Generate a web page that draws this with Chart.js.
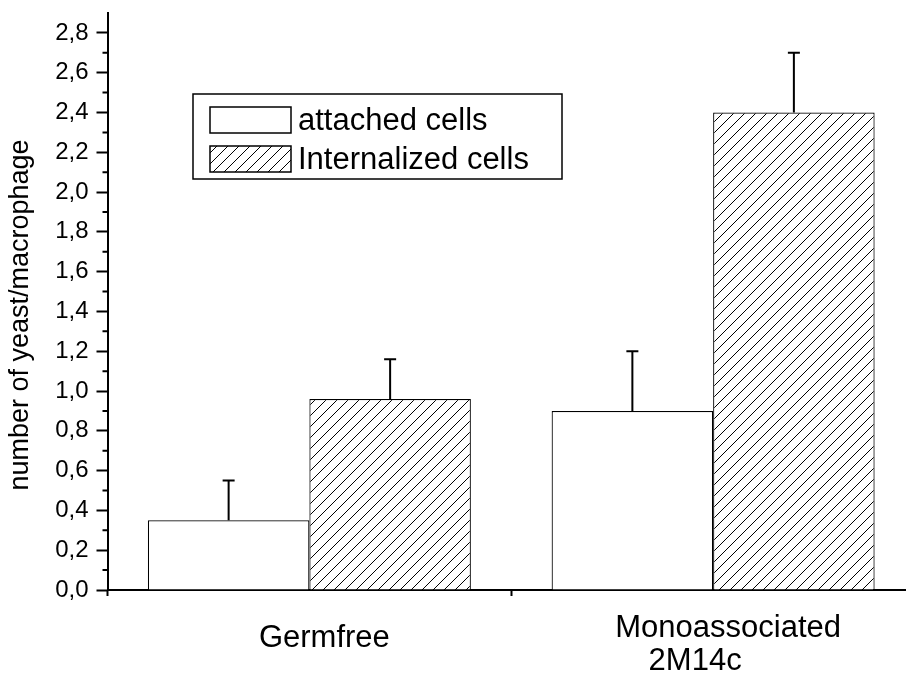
<!DOCTYPE html>
<html>
<head>
<meta charset="utf-8">
<script src="https://cdn.jsdelivr.net/npm/chart.js@4.4.0/dist/chart.umd.min.js"></script>
<style>
    body { margin: 0; overflow: hidden; background: #fff; }
    #contenedor { width: 920px; height: 679px; }
</style>
</head>
<body>
<div id="contenedor"><canvas id="grafico"></canvas></div>
<script>
// datos
let categorias = [['Germfree'], ['Monoassociated', '2M14c']];
let series = ['attached cells', 'Internalized cells'];
let adheridas = [0.35, 0.90];
let adheridas_err = [0.20, 0.30];
let internalizadas = [0.96, 2.40];
let internalizadas_err = [0.20, 0.30];
let y_max = 2.9;
let y_paso = 0.2;
let titulo_y = 'number of yeast/macrophage';

let fuente = '"Liberation Sans", Arial, sans-serif';
Chart.defaults.font.family = fuente;
Chart.defaults.color = '#000';

let graf = document.getElementById('grafico');

function rayado() {
    let c = document.createElement('canvas');
    c.width = 11;
    c.height = 11;
    let g = c.getContext('2d');
    g.fillStyle = '#fff';
    g.fillRect(0, 0, 11, 11);
    g.strokeStyle = '#000';
    g.lineWidth = 1;
    g.beginPath();
    g.moveTo(0, 11); g.lineTo(11, 0);
    g.moveTo(-1, 1); g.lineTo(1, -1);
    g.moveTo(10, 12); g.lineTo(12, 10);
    g.stroke();
    return graf.getContext('2d').createPattern(c, 'repeat');
}

let patron = rayado();

let extras = {
    id: 'extras',
    afterDatasetsDraw: function(chart) {
        let ctx = chart.ctx;
        let y = chart.scales.y;
        // barras de error (solo hacia arriba)
        chart.data.datasets.forEach(function(ds, d) {
            let meta = chart.getDatasetMeta(d);
            meta.data.forEach(function(barra, i) {
                let tope = y.getPixelForValue(ds.data[i] + ds.errores[i]);
                ctx.save();
                ctx.strokeStyle = '#000';
                ctx.lineWidth = 2;
                ctx.beginPath();
                ctx.moveTo(barra.x, barra.y);
                ctx.lineTo(barra.x, tope);
                ctx.moveTo(barra.x - 6, tope);
                ctx.lineTo(barra.x + 6, tope);
                ctx.stroke();
                ctx.restore();
            });
        });
    },
    afterDraw: function(chart) {
        let ctx = chart.ctx;
        let x = chart.scales.x;
        let y = chart.scales.y;
        ctx.save();
        ctx.strokeStyle = '#000';
        ctx.fillStyle = '#000';

        // marcas menores del eje y
        ctx.lineWidth = 2;
        ctx.beginPath();
        for (let i = 1; i < y_max * 10; i += 2) {
            let py = y.getPixelForValue(i / 10);
            ctx.moveTo(y.right - 5, py);
            ctx.lineTo(y.right, py);
        }
        ctx.stroke();

        // etiquetas del eje x
        ctx.font = '31px ' + fuente;
        ctx.textAlign = 'center';
        ctx.textBaseline = 'alphabetic';
        categorias.forEach(function(lineas, i) {
            let px = x.getPixelForValue(i);
            if (lineas.length == 1) {
                ctx.fillText(lineas[0], px + 15, 647);
            }
            else {
                ctx.fillText(lineas[0], px + 15, 637);
                ctx.fillText(lineas[1], px - 18, 670);
            }
        });

        // titulo del eje y
        ctx.save();
        ctx.translate(28, 315);
        ctx.rotate(-Math.PI / 2);
        ctx.font = '27px ' + fuente;
        ctx.fillText(titulo_y, 0, 0);
        ctx.restore();

        // leyenda
        ctx.lineWidth = 1.5;
        ctx.fillStyle = '#fff';
        ctx.fillRect(193, 94, 369, 85);
        ctx.strokeRect(193, 94, 369, 85);
        ctx.font = '31px ' + fuente;
        ctx.textAlign = 'left';
        ctx.textBaseline = 'middle';
        chart.data.datasets.forEach(function(ds, d) {
            let sy = 107 + d * 39;
            ctx.fillStyle = ds.backgroundColor;
            ctx.fillRect(210, sy, 81, 26);
            ctx.strokeRect(210, sy, 81, 26);
            ctx.fillStyle = '#000';
            ctx.fillText(ds.label, 298, sy + 14);
        });
        ctx.restore();
    }
};

let grafico = new Chart(graf, {
    type: 'bar',
    data: {
        labels: categorias,
        datasets: [{
            label: series[0],
            data: adheridas,
            errores: adheridas_err,
            backgroundColor: '#ffffff',
            borderColor: '#000000',
            borderWidth: 1.2
        }, {
            label: series[1],
            data: internalizadas,
            errores: internalizadas_err,
            backgroundColor: patron,
            borderColor: '#000000',
            borderWidth: 1.2
        }]
    },
    options: {
        responsive: true,
        maintainAspectRatio: false,
        animation: false,
        categoryPercentage: 0.8,
        barPercentage: 1.0,
        layout: {
            padding: { top: 13, right: 5, left: 0, bottom: 0 }
        },
        plugins: {
            legend: { display: false },
            tooltip: { enabled: false }
        },
        scales: {
            x: {
                grid: {
                    drawOnChartArea: false,
                    tickLength: 6,
                    tickWidth: 2,
                    tickColor: '#000',
                    offset: true
                },
                border: { color: '#000', width: 2 },
                ticks: { display: false },
                afterFit: function(s) {
                    s.height = 89;
                    s.paddingLeft = 0;
                    s.paddingRight = 0;
                }
            },
            y: {
                min: 0,
                max: y_max,
                grid: {
                    drawOnChartArea: false,
                    tickLength: 11,
                    tickWidth: 2,
                    tickColor: '#000'
                },
                border: { color: '#000', width: 2 },
                ticks: {
                    stepSize: y_paso,
                    includeBounds: false,
                    padding: 8,
                    color: '#000',
                    font: { size: 24 },
                    callback: function(v) { return v.toFixed(1).replace('.', ','); }
                },
                afterFit: function(s) {
                    s.width = 107.5;
                    s.paddingTop = 0;
                    s.paddingBottom = 0;
                }
            }
        }
    },
    plugins: [extras]
});
</script>
</body>
</html>
